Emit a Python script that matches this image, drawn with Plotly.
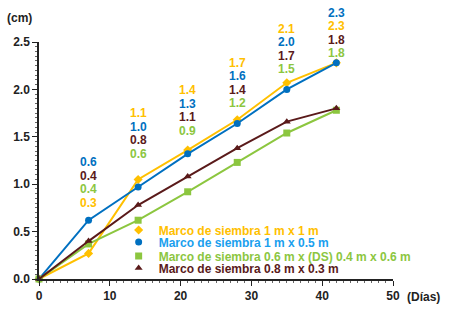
import plotly.graph_objects as go

days = [0, 7, 14, 21, 28, 35, 42]
names = ["Marco de siembra 1 m x 1 m",
         "Marco de siembra 1 m x 0.5 m",
         "Marco de siembra 0.6 m x (DS) 0.4 m x 0.6 m",
         "Marco de siembra 0.8 m x 0.3 m"]
yellow = [0, 0.27, 1.05, 1.36, 1.68, 2.07, 2.28]
blue = [0, 0.62, 0.97, 1.32, 1.64, 2.00, 2.28]
green = [0, 0.37, 0.62, 0.92, 1.23, 1.54, 1.78]
brown = [0, 0.40, 0.78, 1.08, 1.38, 1.66, 1.80]
lab_yellow = ["", "0.3", "1.1", "1.4", "1.7", "2.1", "2.3"]
lab_blue = ["", "0.6", "1.0", "1.3", "1.6", "2.0", "2.3"]
lab_green = ["", "0.4", "0.6", "0.9", "1.2", "1.5", "1.8"]
lab_brown = ["", "0.4", "0.8", "1.1", "1.4", "1.7", "1.8"]

colors = ["#FFC000", "#0070C0", "#8CC63F", "#5A1A1A"]
legend_colors = ["#FFC000", "#1AA0EE", "#8CC63F", "#5A1A1A"]
symbols = ["diamond", "circle", "square", "triangle-up"]
series = [yellow, blue, green, brown]
labels = [lab_yellow, lab_blue, lab_green, lab_brown]
FONT = "Liberation Sans, Arial, sans-serif"

fig = go.Figure()
legend_ids = ["legend", "legend2", "legend3", "legend4"]
for nm, ys, c, lc, s, lid in zip(names, series, colors, legend_colors, symbols, legend_ids):
    fig.add_trace(go.Scatter(x=days, y=ys, name=nm, showlegend=False,
                             mode="lines+markers",
                             line=dict(color=c, width=2),
                             marker=dict(symbol=s, size=7, color=c),
                             cliponaxis=False))
    # legend entry (marker only, like the reference)
    fig.add_trace(go.Scatter(x=[None], y=[None], mode="markers", legend=lid,
                             name=f'<span style="color:{lc}"><b>{nm}</b></span>',
                             marker=dict(symbol=s, size=7, color=c)))

# value labels stacked above each day (layout offsets in pixels)
label_lift_px = [0, 58, 66, 60, 57, 54, 50]
row_gap_px = 13.5
orders = {7: [1, 3, 2, 0], 42: [1, 0, 3, 2]}
for i, d in enumerate(days):
    if i == 0:
        continue
    order = orders.get(d, [0, 1, 3, 2])
    top = max(s[i] for s in series)
    for k, si in enumerate(order):
        fig.add_annotation(x=d, y=top, xref="x", yref="y",
                           text=f"<b>{labels[si][i]}</b>",
                           showarrow=False, yshift=label_lift_px[i] - row_gap_px * k,
                           font=dict(color=colors[si], size=12, family=FONT))

fig.add_annotation(x=-0.096, y=1.10, xref="paper", yref="paper", text="<b>(cm)</b>",
                   showarrow=False, font=dict(size=12, color="#222", family=FONT),
                   xanchor="left", yanchor="middle")
fig.add_annotation(x=1.034, y=-0.076, xref="paper", yref="paper", text="<b>(Días)</b>",
                   showarrow=False, font=dict(size=12, color="#222", family=FONT),
                   xanchor="left", yanchor="middle")

axis_common = dict(showline=True, linecolor="#222", linewidth=1.5, ticks="outside",
                   ticklen=5, tickcolor="#222", showgrid=False, zeroline=False,
                   automargin=False,
                   tickfont=dict(size=12, color="#222", family=FONT))
fig.update_xaxes(range=[0, 50], dtick=10, tickprefix="<b>", ticksuffix="</b>",
                 minor=dict(ticks="outside", ticklen=2, tickcolor="#666", dtick=1),
                 **axis_common)
fig.update_yaxes(range=[0, 2.5], dtick=0.5, tickformat=".1f", tickprefix="<b>",
                 ticksuffix="</b>",
                 minor=dict(ticks="outside", ticklen=2, tickcolor="#666", dtick=0.05),
                 **axis_common)

leg_common = dict(xanchor="left", yanchor="middle", bgcolor="rgba(0,0,0,0)",
                  font=dict(size=12, family=FONT), itemwidth=30)
leg_x = 0.225
leg_rows = [0.207, 0.156, 0.097, 0.046]
fig.update_layout(
    width=450, height=310,
    margin=dict(l=39, r=57, t=42, b=31),
    plot_bgcolor="white", paper_bgcolor="white",
    font=dict(family=FONT),
    showlegend=True,
    legend=dict(x=leg_x, y=leg_rows[0], **leg_common),
    legend2=dict(x=leg_x, y=leg_rows[1], **leg_common),
    legend3=dict(x=leg_x, y=leg_rows[2], **leg_common),
    legend4=dict(x=leg_x, y=leg_rows[3], **leg_common),
)

fig.write_html("out.html", config={"displayModeBar": False},
               post_script="document.body.style.margin='0';")
